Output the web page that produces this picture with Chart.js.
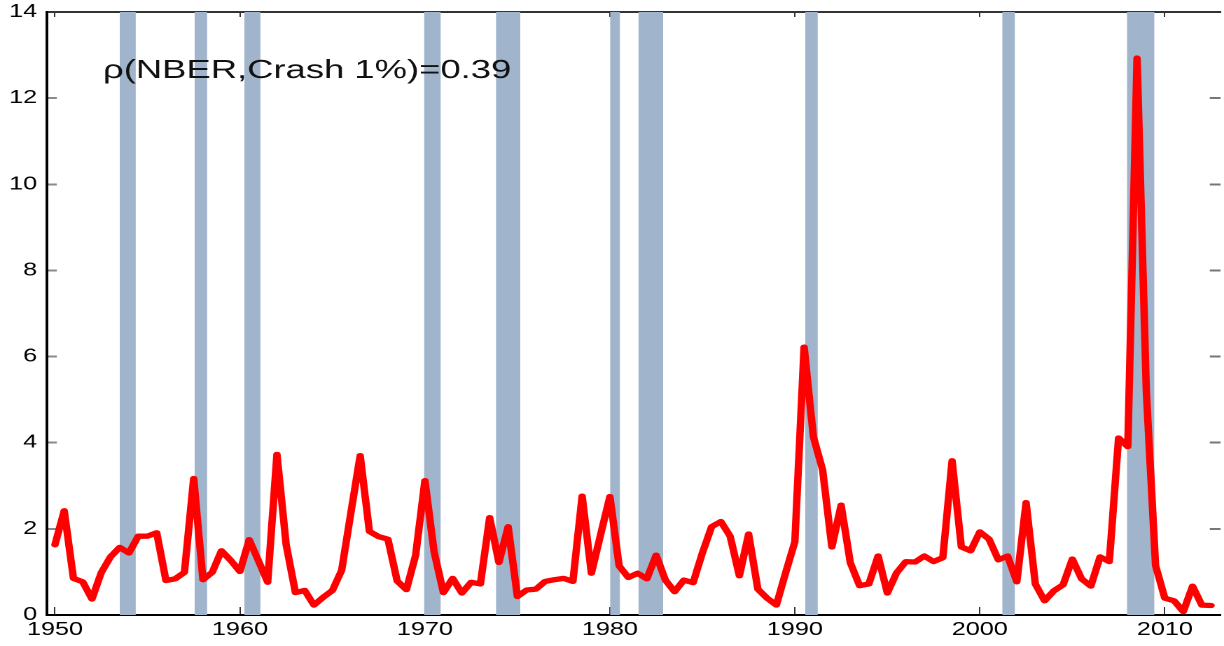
<!DOCTYPE html>
<html>
<head>
<meta charset="utf-8">
<script src="https://cdn.jsdelivr.net/npm/chart.js@4.4.1/dist/chart.umd.min.js"></script>
<style>
  html, body { margin: 0; padding: 0; background: #ffffff; overflow: hidden; }
  #wrap { position: absolute; left: 0; top: 0; width: 874px; height: 646px;
          transform: scaleX(1.40046); transform-origin: 0 0; }
</style>
</head>
<body>
<div id="wrap"><canvas id="c"></canvas></div>
<script>
// ---- data (half-year observations) ----
const periods = [
  1950.0,1950.5,1951.0,1951.5,1952.0,1952.5,1953.0,1953.5,1954.0,1954.5,
  1955.0,1955.5,1956.0,1956.5,1957.0,1957.5,1958.0,1958.5,1959.0,1959.5,
  1960.0,1960.5,1961.0,1961.5,1962.0,1962.5,1963.0,1963.5,1964.0,1964.5,
  1965.0,1965.5,1966.0,1966.5,1967.0,1967.5,1968.0,1968.5,1969.0,1969.5,
  1970.0,1970.5,1971.0,1971.5,1972.0,1972.5,1973.0,1973.5,1974.0,1974.5,
  1975.0,1975.5,1976.0,1976.5,1977.0,1977.5,1978.0,1978.5,1979.0,1979.5,
  1980.0,1980.5,1981.0,1981.5,1982.0,1982.5,1983.0,1983.5,1984.0,1984.5,
  1985.0,1985.5,1986.0,1986.5,1987.0,1987.5,1988.0,1988.5,1989.0,1989.5,
  1990.0,1990.5,1991.0,1991.5,1992.0,1992.5,1993.0,1993.5,1994.0,1994.5,
  1995.0,1995.5,1996.0,1996.5,1997.0,1997.5,1998.0,1998.5,1999.0,1999.5,
  2000.0,2000.5,2001.0,2001.5,2002.0,2002.5,2003.0,2003.5,2004.0,2004.5,
  2005.0,2005.5,2006.0,2006.5,2007.0,2007.5,2008.0,2008.5,2009.0,2009.5,
  2010.0,2010.5,2011.0,2011.5,2012.0,2012.5
];
const crash1 = [
  1.63,2.42,0.85,0.77,0.37,0.98,1.35,1.57,1.44,1.83,
  1.83,1.91,0.80,0.84,0.99,3.17,0.82,0.99,1.49,1.27,
  1.01,1.75,1.26,0.76,3.73,1.63,0.52,0.57,0.23,0.41,
  0.57,1.04,2.38,3.70,1.94,1.82,1.76,0.79,0.59,1.39,
  3.12,1.46,0.52,0.85,0.51,0.76,0.72,2.26,1.22,2.05,
  0.43,0.58,0.60,0.78,0.82,0.85,0.78,2.76,0.97,1.87,
  2.75,1.14,0.87,0.97,0.84,1.39,0.81,0.54,0.81,0.75,
  1.44,2.05,2.17,1.83,0.91,1.88,0.60,0.39,0.23,0.98,
  1.70,6.22,4.14,3.37,1.58,2.55,1.21,0.68,0.72,1.37,
  0.51,0.98,1.24,1.23,1.37,1.24,1.33,3.58,1.58,1.49,
  1.93,1.76,1.28,1.37,0.77,2.61,0.72,0.33,0.56,0.70,
  1.30,0.84,0.67,1.35,1.24,4.11,3.91,12.93,5.20,1.15,
  0.39,0.33,0.08,0.67,0.23,0.22
];
// NBER recessions (start, end) in fractional years
const recessionStart = [1953.50,1957.55,1960.24,1969.95,1973.84,1980.01,1981.54,1990.56,2001.21,2007.95];
const recessionEnd   = [1954.37,1958.23,1961.11,1970.86,1975.16,1980.55,1982.88,1991.24,2001.90,2009.44];
const xTicks = [1950,1960,1970,1980,1990,2000,2010];
const yTicks = [0,2,4,6,8,10,12,14];
const annotationText = 'ρ(NBER,Crash 1%)=0.39';

const X_MIN = 1949.57, X_MAX = 2013.0, Y_MIN = 0, Y_MAX = 14;
const FONT = "'Liberation Sans', Arial, Helvetica, sans-serif";
const BAND = '#a0b4cb';

const datasets = [{
  type: 'line',
  data: periods.map((p, i) => ({ x: p, y: crash1[i] })),
  borderColor: '#ff0000',
  borderWidth: 5.3,
  pointRadius: 0,
  tension: 0,
  fill: false,
  borderJoinStyle: 'round',
  borderCapStyle: 'round'
}];
recessionStart.forEach((s, i) => {
  datasets.push({
    type: 'line',
    data: [{ x: s, y: Y_MAX }, { x: recessionEnd[i], y: Y_MAX }],
    borderColor: 'rgba(0,0,0,0)',
    borderWidth: 0,
    backgroundColor: BAND,
    pointRadius: 0,
    tension: 0,
    fill: 'origin'
  });
});

const setTicks = (vals) => (scale) => { scale.ticks = vals.map(v => ({ value: v })); };
const noPad = (s) => { s.paddingTop = 0; s.paddingBottom = 0; s.paddingLeft = 0; s.paddingRight = 0; };

const annotationPlugin = {
  id: 'annot',
  afterDatasetsDraw(chart) {
    const ctx = chart.ctx;
    const ca = chart.chartArea;
    ctx.save();
    ctx.font = "26px " + FONT;
    ctx.fillStyle = '#111111';
    ctx.textBaseline = 'alphabetic';
    ctx.textAlign = 'left';
    ctx.fillText(annotationText, ca.left + 40, 78);
    ctx.restore();
  }
};

new Chart(document.getElementById('c'), {
  type: 'line',
  data: { datasets },
  options: {
    responsive: true,
    maintainAspectRatio: false,
    devicePixelRatio: 2,
    animation: false,
    events: [],
    layout: { padding: 0 },
    plugins: { legend: { display: false }, tooltip: { enabled: false }, title: { display: false } },
    scales: {
      x: {
        type: 'linear', position: 'bottom', min: X_MIN, max: X_MAX, z: 1,
        afterBuildTicks: setTicks(xTicks),
        afterFit: (s) => { s.height = 31; noPad(s); },
        ticks: { autoSkip: false, maxRotation: 0, padding: 12, color: '#000',
                 font: { family: FONT, size: 18 }, callback: (v) => String(v) },
        grid: { drawOnChartArea: false, drawTicks: true, tickLength: -8, tickColor: '#333', tickWidth: 1 },
        border: { display: true, color: '#000', width: 2 }
      },
      x2: {
        type: 'linear', position: 'top', min: X_MIN, max: X_MAX, z: 1,
        afterBuildTicks: setTicks(xTicks),
        afterFit: (s) => { s.height = 12; noPad(s); },
        ticks: { display: false },
        grid: { drawOnChartArea: false, drawTicks: true, tickLength: -5, tickColor: '#333', tickWidth: 1 },
        border: { display: true, color: '#333', width: 2 }
      },
      y: {
        type: 'linear', position: 'left', min: Y_MIN, max: Y_MAX, z: 1,
        afterBuildTicks: setTicks(yTicks),
        afterFit: (s) => { s.width = 33.56; noPad(s); },
        ticks: { padding: 14, color: '#000', font: { family: FONT, size: 18 }, callback: (v) => String(v) },
        grid: { drawOnChartArea: false, drawTicks: true, tickLength: -7, tickColor: '#8a8a8a', tickWidth: 2 },
        border: { display: true, color: '#000', width: 2 }
      },
      y2: {
        type: 'linear', position: 'right', min: Y_MIN, max: Y_MAX, z: 1,
        afterBuildTicks: setTicks(yTicks),
        afterFit: (s) => { s.width = 0; noPad(s); },
        ticks: { display: false },
        grid: { drawOnChartArea: false, drawTicks: true, tickLength: -7.5, tickColor: '#777', tickWidth: 2 },
        border: { display: false }
      }
    }
  },
  plugins: [annotationPlugin]
});
</script>
</body>
</html>
